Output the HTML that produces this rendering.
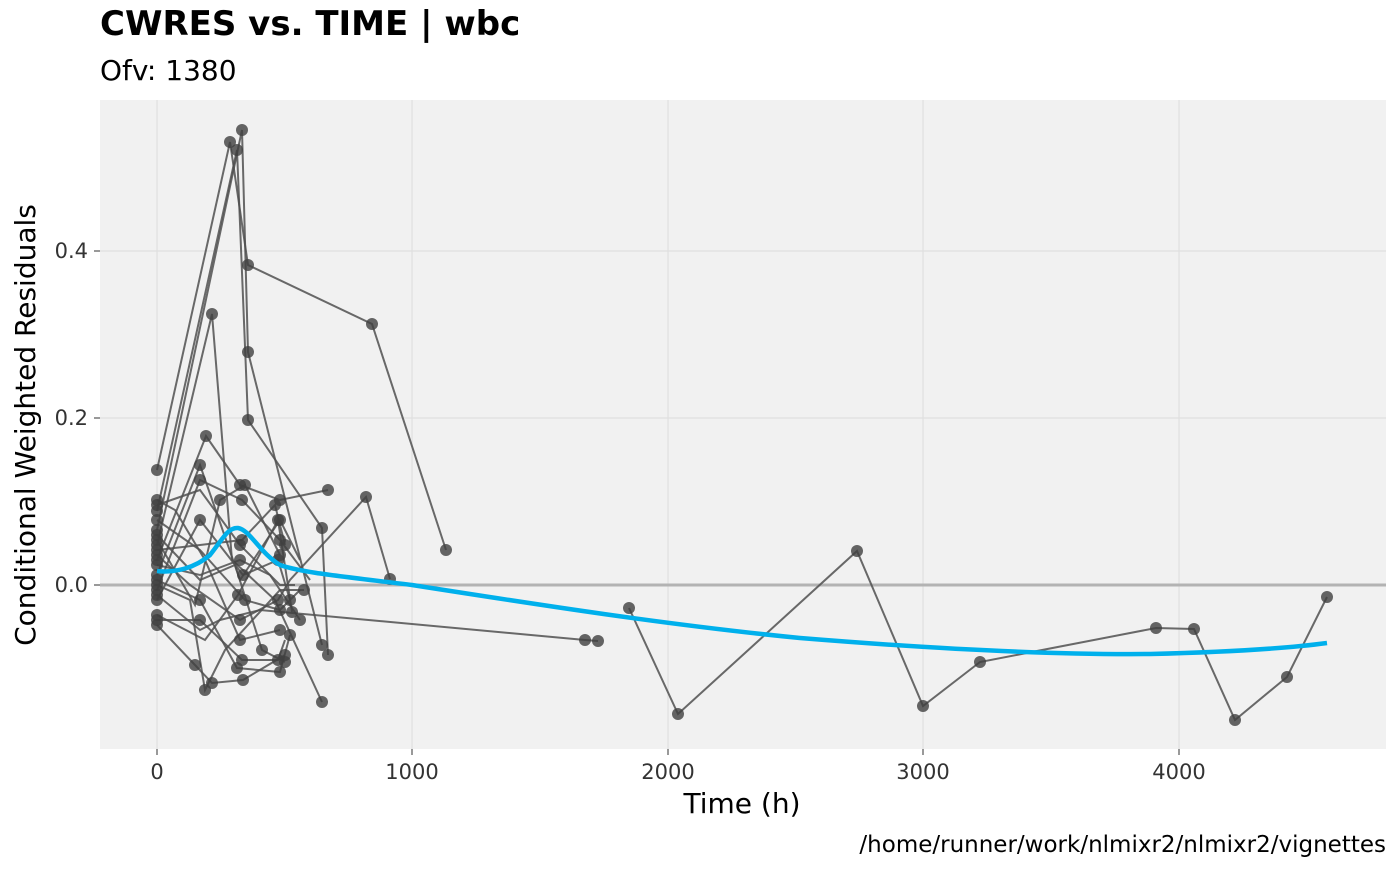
<!DOCTYPE html>
<html><head><meta charset="utf-8"><style>
body{margin:0;background:#fff;width:1400px;height:865px;overflow:hidden;font-family:"DejaVu Sans","Liberation Sans",sans-serif}
</style></head><body>
<svg width="1400" height="865" xmlns="http://www.w3.org/2000/svg" font-family="DejaVu Sans, Liberation Sans, sans-serif">
<rect x="100" y="100" width="1286" height="649" fill="#f1f1f1"/>
<g stroke="#e0e0e0" stroke-width="1.2">
<line x1="157" y1="100" x2="157" y2="749"/><line x1="412" y1="100" x2="412" y2="749"/><line x1="668" y1="100" x2="668" y2="749"/><line x1="923" y1="100" x2="923" y2="749"/><line x1="1179" y1="100" x2="1179" y2="749"/>
<line x1="100" y1="418" x2="1386" y2="418"/><line x1="100" y1="251" x2="1386" y2="251"/>
</g>
<line x1="100" y1="585" x2="1386" y2="585" stroke="#b3b3b3" stroke-width="3"/>
<g fill="none" stroke="#505050" stroke-opacity="0.85" stroke-width="2">
<polyline points="157,470 230,142 248,265 372,324 446,550"/>
<polyline points="157,511 237,150 248,420 322,528 328,655"/>
<polyline points="157,530 242,130 248,352 322,645"/>
<polyline points="157,545 212,314 232,560 275,600 322,702"/>
<polyline points="157,560 206,436 240,485 280,500 328,490"/>
<polyline points="157,575 200,465 240,580 280,520 300,560"/>
<polyline points="157,590 200,480 242,500 280,540 310,580"/>
<polyline points="157,600 200,520 243,575 278,560 290,600"/>
<polyline points="157,620 200,620 242,660 278,660 285,640"/>
<polyline points="157,625 195,665 212,683 243,680 285,655"/>
<polyline points="157,580 200,600 237,668 280,672 290,635"/>
<polyline points="157,555 190,585 240,620 278,600 290,580 366,497 390,579"/>
<polyline points="157,520 200,550 245,600 280,610 300,590"/>
<polyline points="157,500 175,510 205,560 240,640 280,630"/>
<polyline points="157,540 195,605 220,500 245,485 280,555"/>
<polyline points="157,565 200,575 240,560 270,575 300,620"/>
<polyline points="157,505 200,490 240,545 280,585 295,585"/>
<polyline points="157,615 205,640 238,595 278,520 292,612"/>
<polyline points="157,595 200,630 220,620 260,610 585,640 598,641"/>
<polyline points="157,535 200,580 235,565 262,650 285,662"/>
<polyline points="157,550 200,545 242,540 275,505 285,545"/>
<polyline points="629,608 678,714 857,551 923,706 980,662 1156,628 1194,629 1235,720 1287,677 1327,597"/>
<polyline points="157,585 190,600 205,690 225,650 280,590 304,590"/>
</g>
<g fill="#404040" fill-opacity="0.8">
<circle cx="157" cy="470" r="6"/><circle cx="157" cy="511" r="6"/><circle cx="157" cy="530" r="6"/><circle cx="157" cy="545" r="6"/><circle cx="157" cy="560" r="6"/><circle cx="157" cy="575" r="6"/><circle cx="157" cy="590" r="6"/><circle cx="157" cy="600" r="6"/><circle cx="157" cy="620" r="6"/><circle cx="157" cy="625" r="6"/><circle cx="157" cy="580" r="6"/><circle cx="157" cy="555" r="6"/><circle cx="157" cy="520" r="6"/><circle cx="157" cy="500" r="6"/><circle cx="157" cy="540" r="6"/><circle cx="157" cy="565" r="6"/><circle cx="157" cy="505" r="6"/><circle cx="157" cy="615" r="6"/><circle cx="157" cy="595" r="6"/><circle cx="157" cy="535" r="6"/><circle cx="157" cy="550" r="6"/><circle cx="157" cy="585" r="6"/>
<circle cx="230" cy="142" r="6"/><circle cx="237" cy="150" r="6"/><circle cx="242" cy="130" r="6"/><circle cx="248" cy="265" r="6"/><circle cx="248" cy="420" r="6"/><circle cx="248" cy="352" r="6"/><circle cx="212" cy="314" r="6"/><circle cx="206" cy="436" r="6"/><circle cx="372" cy="324" r="6"/><circle cx="446" cy="550" r="6"/><circle cx="366" cy="497" r="6"/><circle cx="390" cy="579" r="6"/>
<circle cx="322" cy="528" r="6"/><circle cx="328" cy="655" r="6"/><circle cx="322" cy="645" r="6"/><circle cx="322" cy="702" r="6"/><circle cx="328" cy="490" r="6"/>
<circle cx="200" cy="465" r="6"/><circle cx="200" cy="480" r="6"/><circle cx="200" cy="520" r="6"/><circle cx="200" cy="620" r="6"/><circle cx="195" cy="665" r="6"/><circle cx="212" cy="683" r="6"/><circle cx="200" cy="600" r="6"/><circle cx="237" cy="668" r="6"/><circle cx="240" cy="485" r="6"/><circle cx="242" cy="500" r="6"/><circle cx="243" cy="575" r="6"/><circle cx="242" cy="660" r="6"/><circle cx="243" cy="680" r="6"/><circle cx="240" cy="620" r="6"/><circle cx="245" cy="600" r="6"/><circle cx="240" cy="640" r="6"/><circle cx="220" cy="500" r="6"/><circle cx="245" cy="485" r="6"/><circle cx="240" cy="560" r="6"/><circle cx="240" cy="545" r="6"/><circle cx="238" cy="595" r="6"/><circle cx="262" cy="650" r="6"/><circle cx="242" cy="540" r="6"/><circle cx="205" cy="690" r="6"/>
<circle cx="280" cy="500" r="6"/><circle cx="280" cy="520" r="6"/><circle cx="280" cy="540" r="6"/><circle cx="278" cy="560" r="6"/><circle cx="278" cy="660" r="6"/><circle cx="285" cy="655" r="6"/><circle cx="280" cy="672" r="6"/><circle cx="280" cy="610" r="6"/><circle cx="280" cy="630" r="6"/><circle cx="280" cy="555" r="6"/><circle cx="278" cy="600" r="6"/><circle cx="278" cy="520" r="6"/><circle cx="285" cy="662" r="6"/><circle cx="275" cy="505" r="6"/><circle cx="285" cy="545" r="6"/><circle cx="290" cy="600" r="6"/><circle cx="300" cy="620" r="6"/><circle cx="292" cy="612" r="6"/><circle cx="304" cy="590" r="6"/><circle cx="290" cy="635" r="6"/>
<circle cx="585" cy="640" r="6"/><circle cx="598" cy="641" r="6"/><circle cx="629" cy="608" r="6"/><circle cx="678" cy="714" r="6"/><circle cx="857" cy="551" r="6"/><circle cx="923" cy="706" r="6"/><circle cx="980" cy="662" r="6"/><circle cx="1156" cy="628" r="6"/><circle cx="1194" cy="629" r="6"/><circle cx="1235" cy="720" r="6"/><circle cx="1287" cy="677" r="6"/><circle cx="1327" cy="597" r="6"/>
</g>
<path d="M157,571 C175,573 195,568 210,555 C222,540 228,527 238,528 C250,530 260,553 280,565 C300,572 330,575 412,585 C540,605 668,625 800,638 C923,648 1050,655 1150,654 C1230,652 1290,648 1327,643" fill="none" stroke="#00b0ec" stroke-width="4.5"/>
<g stroke="#333"><line x1="94" y1="585" x2="100" y2="585"/><line x1="94" y1="418" x2="100" y2="418"/><line x1="94" y1="251" x2="100" y2="251"/></g>
<g stroke="#333"><line x1="157" y1="749" x2="157" y2="755"/><line x1="412" y1="749" x2="412" y2="755"/><line x1="668" y1="749" x2="668" y2="755"/><line x1="923" y1="749" x2="923" y2="755"/><line x1="1179" y1="749" x2="1179" y2="755"/></g>
<g font-size="21" fill="#333" text-anchor="end"><text x="88" y="592">0.0</text><text x="88" y="425">0.2</text><text x="88" y="258">0.4</text></g>
<g font-size="21" fill="#333" text-anchor="middle"><text x="157" y="779">0</text><text x="412" y="779">1000</text><text x="668" y="779">2000</text><text x="923" y="779">3000</text><text x="1179" y="779">4000</text></g>
<text x="742" y="813" font-size="28" text-anchor="middle">Time (h)</text>
<text transform="translate(35,425) rotate(-90)" font-size="28" text-anchor="middle">Conditional Weighted Residuals</text>
<text x="100" y="35" font-size="34" font-weight="bold">CWRES vs. TIME | wbc</text>
<text x="100" y="80" font-size="28">Ofv: 1380</text>
<text x="1386" y="852" font-size="23" text-anchor="end">/home/runner/work/nlmixr2/nlmixr2/vignettes</text>
</svg>
</body></html>
